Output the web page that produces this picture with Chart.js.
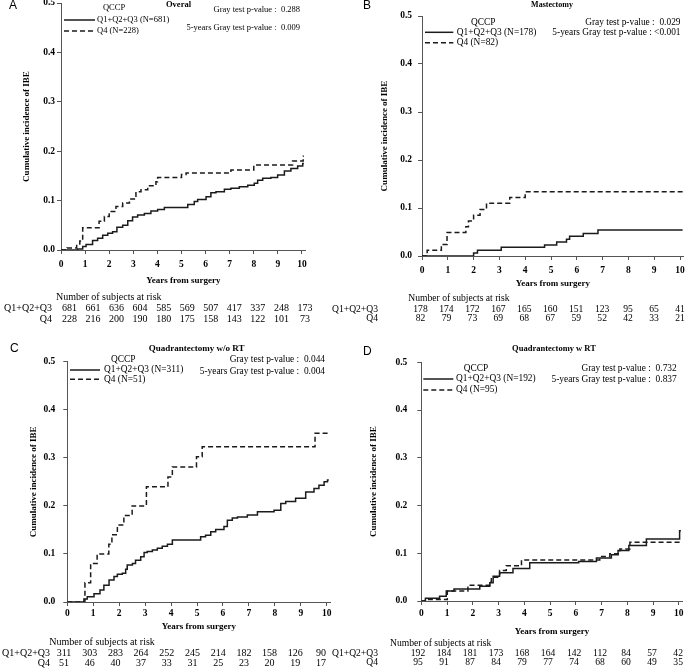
<!DOCTYPE html>
<html>
<head>
<meta charset="utf-8">
<script src="https://cdn.jsdelivr.net/npm/chart.js@4.4.1/dist/chart.umd.min.js"></script>
<style>
  html, body { margin: 0; padding: 0; background: #fff; }
  #wrap { position: relative; width: 685px; height: 671px; overflow: hidden; }
  canvas { position: absolute; }
</style>
</head>
<body>
<div id="wrap">
  <canvas id="panelA" width="340" height="335" style="left:0;top:0"></canvas>
  <canvas id="panelB" width="360" height="335" style="left:325px;top:0"></canvas>
  <canvas id="panelC" width="340" height="336" style="left:0;top:335px"></canvas>
  <canvas id="panelD" width="360" height="336" style="left:325px;top:335px"></canvas>
</div>
<script>
// ---- data ----
const years = [0, 1, 2, 3, 4, 5, 6, 7, 8, 9, 10];
const yTicks = [0, 0.1, 0.2, 0.3, 0.4, 0.5];
const groups = ['Q1+Q2+Q3', 'Q4'];

// A: Overal
const overalLowT = [0, 0.69, 0.9, 1.04, 1.31, 1.52, 1.73, 1.94, 2.14, 2.32, 2.56, 2.77, 2.97, 3.18, 3.46, 3.73, 4.01, 4.29, 5.26, 5.53, 5.67, 6.02, 6.22, 6.43, 6.78, 7.05, 7.4, 7.75, 8.02, 8.16, 8.37, 8.71, 8.99, 9.27, 9.54, 9.82, 10.03, 10.08];
const overalLowY = [0, 0.002, 0.007, 0.011, 0.019, 0.024, 0.03, 0.034, 0.037, 0.046, 0.05, 0.059, 0.067, 0.071, 0.074, 0.079, 0.082, 0.086, 0.092, 0.098, 0.102, 0.108, 0.116, 0.118, 0.123, 0.125, 0.128, 0.131, 0.135, 0.141, 0.145, 0.147, 0.152, 0.16, 0.165, 0.17, 0.175, 0.175];
const overalHighT = [0, 0.25, 0.65, 0.78, 0.9, 1.58, 1.8, 2.0, 2.28, 2.56, 2.84, 3.11, 3.32, 3.6, 3.94, 4.01, 5.0, 5.19, 7.05, 8.0, 9.61, 10.05, 10.08];
const overalHighY = [0, 0.004, 0.012, 0.018, 0.045, 0.058, 0.068, 0.078, 0.088, 0.095, 0.103, 0.118, 0.122, 0.13, 0.138, 0.147, 0.153, 0.156, 0.162, 0.172, 0.18, 0.19, 0.19];
const overalRiskLow = [681, 661, 636, 604, 585, 569, 507, 417, 337, 248, 173];
const overalRiskHigh = [228, 216, 200, 190, 180, 175, 158, 143, 122, 101, 73];

// B: Mastectomy
const mastLowT = [0, 2.0, 2.15, 3.07, 4.75, 5.22, 5.6, 5.72, 6.25, 6.82, 10.1];
const mastLowY = [0, 0.006, 0.012, 0.018, 0.023, 0.029, 0.035, 0.041, 0.047, 0.054, 0.054];
const mastHighT = [0, 0.2, 0.75, 0.97, 1.7, 1.8, 2.0, 2.25, 2.5, 3.4, 4.0, 10.1];
const mastHighY = [0, 0.012, 0.024, 0.049, 0.061, 0.073, 0.085, 0.097, 0.11, 0.122, 0.134, 0.134];
const mastRiskLow = [178, 174, 172, 167, 165, 160, 151, 123, 95, 65, 41];
const mastRiskHigh = [82, 79, 73, 69, 68, 67, 59, 52, 42, 33, 21];

// C: Quadrantectomy w/o RT
const quadNoRtLowT = [0, 0.64, 0.77, 1.03, 1.26, 1.41, 1.61, 1.8, 1.93, 2.12, 2.25, 2.31, 2.51, 2.63, 2.83, 2.96, 3.08, 3.28, 3.47, 3.66, 3.86, 4.05, 5.14, 5.33, 5.53, 5.72, 6.04, 6.17, 6.36, 6.56, 6.94, 7.33, 7.97, 8.23, 8.42, 8.8, 9.19, 9.51, 9.7, 9.9, 10.03, 10.08];
const quadNoRtLowY = [0, 0.006, 0.011, 0.017, 0.025, 0.035, 0.046, 0.053, 0.058, 0.06, 0.068, 0.077, 0.08, 0.087, 0.094, 0.103, 0.105, 0.108, 0.112, 0.116, 0.12, 0.129, 0.136, 0.139, 0.146, 0.151, 0.157, 0.17, 0.175, 0.177, 0.181, 0.188, 0.191, 0.205, 0.209, 0.216, 0.229, 0.236, 0.243, 0.25, 0.254, 0.254];
const quadNoRtHighT = [0, 0.68, 0.9, 1.15, 1.6, 1.72, 1.93, 2.18, 2.5, 3.05, 3.88, 4.05, 4.98, 5.2, 9.55, 10.1];
const quadNoRtHighY = [0, 0.04, 0.08, 0.1, 0.12, 0.14, 0.16, 0.18, 0.2, 0.24, 0.26, 0.281, 0.302, 0.323, 0.351, 0.351];
const quadNoRtRiskLow = [311, 303, 283, 264, 252, 245, 214, 182, 158, 126, 90];
const quadNoRtRiskHigh = [51, 46, 40, 37, 33, 31, 25, 23, 20, 19, 17];

// D: Quadrantectomy w RT
const quadRtLowT = [0, 0.16, 0.71, 0.97, 1.27, 2.27, 2.66, 2.79, 3.04, 3.56, 4.21, 6.11, 6.8, 7.38, 7.64, 8.06, 8.74, 10.03, 10.08];
const quadRtLowY = [0, 0.006, 0.01, 0.021, 0.025, 0.031, 0.038, 0.052, 0.059, 0.068, 0.08, 0.083, 0.09, 0.097, 0.106, 0.116, 0.13, 0.147, 0.147];
const quadRtHighT = [0, 0.15, 1.01, 1.81, 2.66, 2.72, 3.04, 3.3, 3.89, 6.93, 7.32, 7.71, 8.1, 10.08];
const quadRtHighY = [0, 0.003, 0.021, 0.033, 0.04, 0.05, 0.064, 0.074, 0.086, 0.093, 0.099, 0.109, 0.123, 0.123];
const quadRtRiskLow = [192, 184, 181, 173, 168, 164, 142, 112, 84, 57, 42];
const quadRtRiskHigh = [95, 91, 87, 84, 79, 77, 74, 68, 60, 49, 35];

// ---- drawing ----
const SERIF = '"Liberation Serif", "Times New Roman", serif';
const SANS = '"Liberation Sans", Arial, sans-serif';
const ink = '#1b1b1b';
const axisColor = '#555';
const dash = [5, 3];

function toPoints(ts, ys) {
  return ts.map((t, i) => ({ x: t, y: ys[i] }));
}

// text around each panel (positions in page pixels): letter, title, legend, p-values, risk table
const panelText = {
  id: 'panelText',
  afterDraw(chart, args, p) {
    const ctx = chart.ctx;
    const xs = chart.scales.x;
    ctx.save();
    ctx.translate(-p.ox, -p.oy);
    ctx.fillStyle = '#000';
    ctx.textBaseline = 'middle';

    ctx.font = '12px ' + SANS;
    ctx.textAlign = 'left';
    ctx.fillText(p.letter, p.letterX, p.letterY);

    ctx.font = 'bold ' + p.titleSize + 'px ' + SERIF;
    ctx.textAlign = 'center';
    ctx.fillText(p.title, p.titleX, p.titleY);

    // legend
    const lg = p.legend;
    ctx.font = p.textSize + 'px ' + SERIF;
    ctx.fillText('QCCP', lg.headX, lg.headY);
    ctx.textAlign = 'left';
    [p.lowN, p.highN].forEach((n, i) => {
      const y = lg.rows[i];
      ctx.strokeStyle = ink;
      ctx.lineWidth = 1.5;
      ctx.setLineDash(i ? dash : []);
      ctx.beginPath();
      ctx.moveTo(lg.x0, y);
      ctx.lineTo(lg.x1, y);
      ctx.stroke();
      ctx.fillText(groups[i] + ' (N=' + n + ')', lg.textX, y);
    });
    ctx.setLineDash([]);

    // p-values
    ctx.textAlign = 'right';
    ctx.fillText('Gray test p-value :  ' + p.pGray, p.pRight, p.pY[0]);
    ctx.fillText('5-years Gray test p-value : ' + p.p5, p.pRight, p.pY[1]);

    // risk table
    const rk = p.risk;
    ctx.font = p.riskSize + 'px ' + SERIF;
    ctx.textAlign = 'left';
    ctx.fillText('Number of subjects at risk', rk.headX, rk.rows[0]);
    ctx.textAlign = 'right';
    ctx.fillText(groups[0], rk.labelRight, rk.rows[1]);
    ctx.fillText(groups[1], rk.labelRight, rk.rows[2]);
    ctx.textAlign = 'center';
    years.forEach((yr, i) => {
      const x = p.ox + xs.getPixelForValue(yr) + rk.off[0] + (rk.off[1] - rk.off[0]) * i / 10;
      ctx.fillText(String(p.riskLow[i]), x, rk.rows[1]);
      ctx.fillText(String(p.riskHigh[i]), x, rk.rows[2]);
    });
    ctx.restore();
  }
};

function buildPanel(id, p) {
  const tickFont = { family: SERIF, size: 9.5, weight: 'bold' };
  const titleFont = { family: SERIF, size: 9, weight: 'bold', lineHeight: 1.2 };
  new Chart(document.getElementById(id), {
    type: 'line',
    data: {
      datasets: [
        { label: groups[0], data: toPoints(p.lowT, p.lowY), borderColor: ink, borderWidth: 1.5, stepped: true, pointRadius: 0, fill: false },
        { label: groups[1], data: toPoints(p.highT, p.highY), borderColor: ink, borderWidth: 1.5, borderDash: dash, stepped: true, pointRadius: 0, fill: false }
      ]
    },
    options: {
      responsive: false,
      animation: false,
      devicePixelRatio: 1,
      layout: { autoPadding: false, padding: { left: 0, top: p.top, right: p.right, bottom: p.bottom } },
      plugins: { legend: { display: false }, tooltip: { enabled: false }, panelText: p },
      scales: {
        x: {
          type: 'linear', min: 0, max: 10.15,
          afterBuildTicks: s => { s.ticks = years.map(v => ({ value: v })); },
          afterFit: s => { s.height = p.xH; s.paddingLeft = 0; s.paddingRight = 0; },
          grid: { drawOnChartArea: false, tickLength: 4, color: axisColor },
          border: { color: axisColor },
          ticks: { font: tickFont, color: '#000', padding: p.xPad, maxRotation: 0, autoSkip: false, callback: v => String(v) },
          title: { display: true, text: 'Years from surgery', font: titleFont, color: '#000', padding: { top: 0, bottom: 0 } }
        },
        y: {
          min: 0, max: 0.5,
          afterBuildTicks: s => { s.ticks = yTicks.map(v => ({ value: v })); },
          afterFit: s => { s.width = p.yW; s.paddingTop = 0; s.paddingBottom = 0; },
          grid: { drawOnChartArea: false, tickLength: 4, color: axisColor },
          border: { color: axisColor },
          ticks: { font: tickFont, color: '#000', padding: p.yPad, callback: v => v.toFixed(1) },
          title: { display: true, text: 'Cumulative incidence of IBE', font: titleFont, color: '#000', padding: { top: p.yTitleX - 5.4, bottom: 0 } }
        }
      }
    },
    plugins: [panelText]
  });
}

buildPanel('panelA', {
  lowT: overalLowT, lowY: overalLowY, highT: overalHighT, highY: overalHighY,
  riskLow: overalRiskLow, riskHigh: overalRiskHigh, lowN: 681, highN: 228,
  ox: 0, oy: 0, top: 3, right: 34.4, bottom: 49, xH: 36, yW: 61, xPad: 5, yPad: 2, yTitleX: 27,
  letter: 'A', letterX: 9, letterY: 6, title: 'Overal', titleX: 178.5, titleY: 5, titleSize: 8.5,
  textSize: 8.5, riskSize: 10,
  legend: { headX: 114, headY: 8, x0: 64, x1: 95, textX: 97, rows: [20, 31] },
  pGray: '0.288', p5: ' 0.009', pRight: 300, pY: [9.3, 27.7],
  risk: { headX: 56, labelRight: 52, rows: [297.7, 308.3, 319], off: [8.4, 3] }
});

buildPanel('panelB', {
  lowT: mastLowT, lowY: mastLowY, highT: mastHighT, highY: mastHighY,
  riskLow: mastRiskLow, riskHigh: mastRiskHigh, lowN: 178, highN: 82,
  ox: 325, oy: 0, top: 16, right: 1.1, bottom: 45.7, xH: 33.3, yW: 97, xPad: 5, yPad: 6, yTitleX: 60,
  letter: 'B', letterX: 363, letterY: 6, title: 'Mastectomy', titleX: 552, titleY: 5, titleSize: 8,
  textSize: 9.4, riskSize: 9.6,
  legend: { headX: 483.3, headY: 22.7, x0: 425, x1: 453.3, textX: 456.7, rows: [32.3, 42.7] },
  pGray: '0.029', p5: '<0.001', pRight: 680.5, pY: [22.7, 32.7],
  risk: { headX: 408.3, labelRight: 378, rows: [298.3, 309, 318.5], off: [-1.5, 0] }
});

buildPanel('panelC', {
  lowT: quadNoRtLowT, lowY: quadNoRtLowY, highT: quadNoRtHighT, highY: quadNoRtHighY,
  riskLow: quadNoRtRiskLow, riskHigh: quadNoRtRiskHigh, lowN: 311, highN: 51,
  ox: 0, oy: 335, top: 26.7, right: 9.4, bottom: 38.7, xH: 30.3, yW: 67.3, xPad: 2, yPad: 8, yTitleX: 33.3,
  letter: 'C', letterX: 10, letterY: 349, title: 'Quadrantectomy w/o RT', titleX: 196.7, titleY: 348.3, titleSize: 9,
  textSize: 9.4, riskSize: 10,
  legend: { headX: 123.3, headY: 360, x0: 70, x1: 100, textX: 104, rows: [370, 379.3] },
  pGray: '0.044', p5: ' 0.004', pRight: 325, pY: [360, 371.7],
  risk: { headX: 49.3, labelRight: 50, rows: [642, 653, 663], off: [-3.3, -5.7] }
});

buildPanel('panelD', {
  lowT: quadRtLowT, lowY: quadRtLowY, highT: quadRtHighT, highY: quadRtHighY,
  riskLow: quadRtRiskLow, riskHigh: quadRtRiskHigh, lowN: 192, highN: 95,
  ox: 325, oy: 335, top: 27.3, right: 2.3, bottom: 33.7, xH: 36.3, yW: 96.3, xPad: 3, yPad: 10, yTitleX: 48.3,
  letter: 'D', letterX: 363, letterY: 352, title: 'Quadrantectomy w RT', titleX: 554, titleY: 349, titleSize: 8.5,
  textSize: 9.4, riskSize: 9.6,
  legend: { headX: 476, headY: 368.3, x0: 423.3, x1: 453.3, textX: 456, rows: [379, 390] },
  pGray: '0.732', p5: ' 0.837', pRight: 676.7, pY: [368.3, 380],
  risk: { headX: 390, labelRight: 378, rows: [643, 653, 662], off: [-3.3, -0.7] }
});
</script>
</body>
</html>
